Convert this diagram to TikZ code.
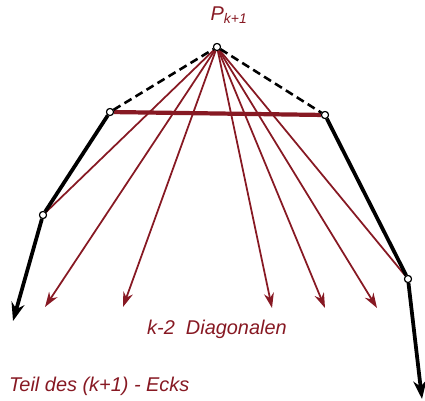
\documentclass[tikz,border=0pt]{standalone}
\usepackage{fontspec}
\setsansfont{Liberation Sans}
\usetikzlibrary{arrows.meta, positioning}
\definecolor{diagred}{RGB}{135, 25, 35}

\begin{document}
\begin{tikzpicture}[
  x=0.03cm, y=-0.03cm,
  vertex/.style={circle, draw=black, fill=white, line width=0.9pt, inner sep=0pt, minimum size=6pt},
  edge/.style={black, line width=3.2pt},
  dashedge/.style={black, line width=2.2pt, dash pattern=on 7pt off 4pt},
  diag/.style={diagred, line width=1.5pt, -{Stealth[length=4.5mm, width=3mm]}},
  label/.style={font=\sffamily\itshape\fontsize{17}{20}\selectfont, text=diagred}
]
\useasboundingbox (0,0) rectangle (425,401);

% Vertices
\node[vertex] (apex) at (217,47) {};
\node[vertex] (topl) at (110,112) {};
\node[vertex] (topr) at (325,115) {};
\node[vertex] (midl) at (43,215) {};
\node[vertex] (midr) at (408,279) {};

% free ends
\coordinate (endl) at (13,321);
\coordinate (endr) at (422,399);
\coordinate (d1) at (45,307);
\coordinate (d2) at (123,307);
\coordinate (d3) at (272,308);
\coordinate (d4) at (325,308);
\coordinate (d5) at (377,308);

% Diagonals
\draw[diagred, line width=3.6pt] (topl) -- (topr);
\draw[diagred, line width=1.5pt] (apex) -- (midl);
\draw[diagred, line width=1.5pt] (apex) -- (midr);
\foreach \e in {d1,d2,d3,d4,d5}
  \draw[diag] (apex) -- (\e);

% Polygon
\draw[dashedge] (topl) -- (apex) -- (topr);
\draw[edge] (topl) -- (midl);
\draw[edge, -{Stealth[length=5.5mm, width=4mm]}] (midl) -- (endl);
\draw[edge] (topr) -- (midr);
\draw[edge, -{Stealth[length=5.5mm, width=4mm]}] (midr) -- (endr);

% redraw vertices on top
\foreach \v in {apex,topl,topr,midl,midr}
  \node[vertex] at (\v) {};

% Labels
\node[label] (pname) at (229,15) {P\textsubscript{k+1}};
\node[label] (diagtext) at (217,329) {k-2 \ Diagonalen};
\node[label, anchor=west] (teil) at (5,386) {Teil des (k+1) - Ecks};

\end{tikzpicture}
\end{document}
